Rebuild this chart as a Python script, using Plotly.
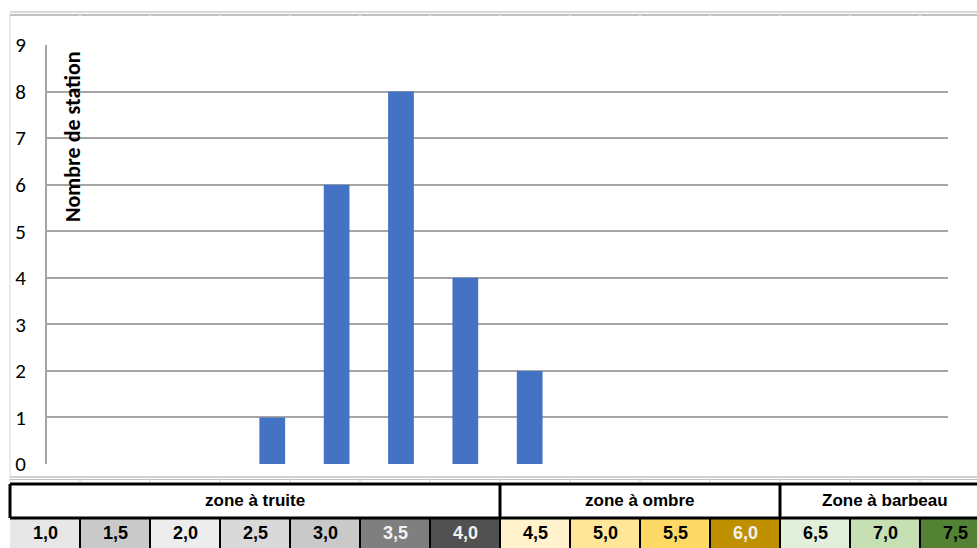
import plotly.graph_objects as go

# --- data -------------------------------------------------------------
classes = ["1,0", "1,5", "2,0", "2,5", "3,0", "3,5", "4,0",
           "4,5", "5,0", "5,5", "6,0", "6,5", "7,0", "7,5"]
station_counts = [0, 0, 0, 1, 6, 8, 4, 2, 0, 0, 0, 0, 0, 0]

zones = ["zone à truite", "zone à ombre", "Zone à barbeau"]
zone_spans = [7, 4, 3]

class_fill = ["#e7e7e7", "#c9c9c9", "#ededed", "#d9d9d9", "#c9c9c9", "#7f7f7f", "#515151",
              "#fff2cc", "#ffe699", "#ffd966", "#bf9000", "#e2efda", "#c6e0b4", "#548235"]
class_text = ["#000000"] * 5 + ["#f2f2f2", "#f2f2f2"] + ["#000000"] * 3 + ["#f2f2f2"] + ["#000000"] * 3

y_ticks = list(range(0, 10))

# --- page geometry (pixels) -------------------------------------------
W, H = 977, 548
PLOT_L, PLOT_R, PLOT_T, PLOT_B = 47, 948, 45, 464
COL0, COL_W = 10, 70           # spreadsheet-like columns under the chart
ROW_BOTTOM, ROW_H = 552, 34    # table rows, counted upward from ROW_BOTTOM

GRID = "#a5a5a5"
BLACK = "#000000"
TABLE_FONT = "Liberation Sans Narrow, Arial Narrow, Liberation Sans, Arial"
CHART_FONT = "Carlito, Calibri, Lato, sans-serif"


def ry(pix):
    """Convert a pixel row to table-row units."""
    return (ROW_BOTTOM - pix) / ROW_H


fig = go.Figure()

fig.add_trace(go.Bar(
    x=classes, y=station_counts,
    marker=dict(color="#4472c4", line=dict(width=0)),
    xaxis="x", yaxis="y", hoverinfo="x+y", showlegend=False,
))

# invisible trace so the table axes exist
fig.add_trace(go.Scatter(x=[1], y=[1], xaxis="x2", yaxis="y2", mode="markers",
                         marker=dict(opacity=0), hoverinfo="skip", showlegend=False))

shapes = []
annotations = []

# spreadsheet cell borders above and below the chart
for pix, col, w in [(12, "#d9d9d9", 2), (15, "#ababab", 1.5), (477, "#d0d0d0", 2), (479.5, "#bdbdbd", 1)]:
    shapes.append(dict(type="line", xref="x2", yref="y2", x0=0, x1=len(classes) + 1,
                       y0=ry(pix), y1=ry(pix), line=dict(color=col, width=w), layer="below"))
shapes.append(dict(type="line", xref="x2", yref="y2", x0=0, x1=0, y0=ry(13), y1=ry(482),
                   line=dict(color="#d6d6d6", width=1), layer="below"))
for i in range(1, len(classes) + 1):
    for a, b in [(12, 16), (477, 482)]:
        shapes.append(dict(type="line", xref="x2", yref="y2", x0=i, x1=i, y0=ry(a), y1=ry(b),
                           line=dict(color="#e0e0e0", width=1.5), layer="below"))

# value classes row
for i, (lab, fc, tc) in enumerate(zip(classes, class_fill, class_text)):
    shapes.append(dict(type="rect", xref="x2", yref="y2", x0=i, x1=i + 1, y0=0, y1=1,
                       fillcolor=fc, line=dict(width=0), layer="below"))
    annotations.append(dict(xref="x2", yref="y2", x=i + 0.5, y=ry(533), text=f"<b>{lab}</b>",
                            xanchor="center", yanchor="middle",
                            showarrow=False, font=dict(family=TABLE_FONT, size=18, color=tc)))
    if i > 0:
        shapes.append(dict(type="line", xref="x2", yref="y2", x0=i, x1=i, y0=0, y1=1,
                           line=dict(color=BLACK, width=2)))

# zone row
start = 0
for name, span in zip(zones, zone_spans):
    annotations.append(dict(xref="x2", yref="y2", x=start + span / 2, y=ry(500), text=f"<b>{name}</b>",
                            xanchor="center", yanchor="middle",
                            showarrow=False, font=dict(family=TABLE_FONT, size=17, color=BLACK)))
    shapes.append(dict(type="line", xref="x2", yref="y2", x0=start, x1=start, y0=1, y1=2,
                       line=dict(color=BLACK, width=3)))
    start += span

# thick horizontal rules of the table
for yv in (1, 2):
    shapes.append(dict(type="line", xref="x2", yref="y2", x0=0, x1=len(classes) + 1,
                       y0=yv, y1=yv, line=dict(color=BLACK, width=3)))

# y-axis title written inside the plot (paper spans the whole figure here)
annotations.append(dict(xref="paper", yref="paper",
                        x=72 / W, y=(H - 137) / H,
                        xanchor="center", yanchor="middle",
                        text="<b>Nombre de station</b>", textangle=-90, showarrow=False,
                        font=dict(family=CHART_FONT, size=22, color=BLACK)))

fig.update_layout(
    width=W, height=H, autosize=False,
    margin=dict(l=0, r=0, t=0, b=0, pad=0, autoexpand=False),
    paper_bgcolor="white", plot_bgcolor="rgba(0,0,0,0)",
    bargap=0.6,
    xaxis=dict(domain=[PLOT_L / W, PLOT_R / W], range=[-0.5, len(classes) - 0.5],
               showticklabels=False, showgrid=False, zeroline=False, showline=False,
               ticks="", automargin=False, fixedrange=True),
    yaxis=dict(domain=[(H - PLOT_B) / H, (H - PLOT_T) / H], range=[0, 9],
               tickvals=y_ticks, showgrid=True, gridcolor=GRID, gridwidth=2,
               zeroline=False, showline=True, linecolor=GRID, linewidth=2,
               ticks="", ticklabelstandoff=15, automargin=False,
               tickfont=dict(family=CHART_FONT, size=21, color=BLACK), fixedrange=True),
    xaxis2=dict(domain=[0, 1], range=[-COL0 / COL_W, (W - COL0) / COL_W], anchor="y2",
                visible=False, automargin=False, fixedrange=True),
    yaxis2=dict(domain=[0, 1], range=[ry(H), ry(0)], anchor="x2",
                visible=False, automargin=False, fixedrange=True),
    shapes=shapes,
    annotations=annotations,
)

fig.write_html("out.html")
